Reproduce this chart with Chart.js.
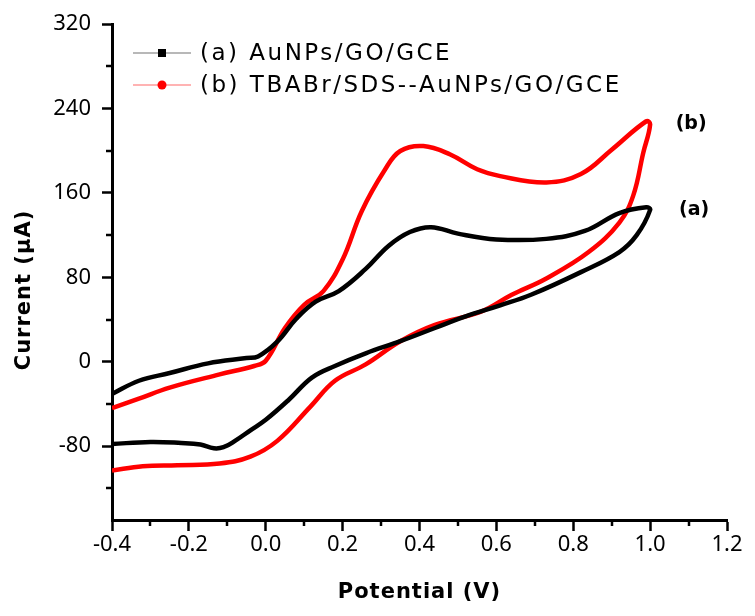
<!DOCTYPE html>
<html>
<head>
<meta charset="utf-8">
<script src="https://cdn.jsdelivr.net/npm/chart.js@4.4.1/dist/chart.umd.min.js"></script>
<style>
  html, body { margin: 0; padding: 0; background: #fff; }
  #wrap { width: 755px; height: 616px; }
</style>
</head>
<body>
<div id="wrap"><canvas id="cv-chart" width="755" height="616"></canvas></div>
<script>
// (a) AuNPs/GO/GCE - forward scan then reverse scan
const potentialA = [-0.40, -0.33, -0.25, -0.15, -0.05, -0.02, 0.03, 0.08, 0.13, 0.19, 0.26, 0.32, 0.375, 0.43, 0.50, 0.60, 0.73, 0.83, 0.92, 0.99, 1.00,
  0.965, 0.92, 0.82, 0.69, 0.61, 0.52, 0.44, 0.35, 0.26, 0.18, 0.12, 0.06, 0.00, -0.04, -0.08, -0.11, -0.135, -0.17, -0.22, -0.30, -0.40];
const currentA = [-30.5, -18, -10.7, -1.5, 3.5, 5, 19, 41, 57, 67, 88, 110, 123, 127.6, 121.5, 116, 116.5, 124, 141, 146.5, 144,
  120, 104, 85, 63.5, 53.5, 43, 32, 19.5, 8, -4, -15, -36, -55, -65, -75, -81, -82, -78.5, -77, -76, -78];

// (b) TBABr/SDS--AuNPs/GO/GCE
const potentialB = [-0.40, -0.33, -0.25, -0.12, -0.03, 0.00, 0.05, 0.10, 0.15, 0.20, 0.25, 0.31, 0.35, 0.41, 0.48, 0.55, 0.61, 0.73, 0.82, 0.90, 0.99, 1.00,
  0.982, 0.956, 0.92, 0.84, 0.73, 0.64, 0.56, 0.44, 0.35, 0.26, 0.18, 0.115, 0.03, -0.04, -0.12, -0.23, -0.32, -0.40];
const currentB = [-44, -35, -24.5, -12, -4, 1, 32, 54, 67, 97, 143, 182, 199.8, 204.5, 196.5, 182.5, 176, 170, 178, 201, 228, 225,
  198, 157.5, 132, 104, 79, 63.5, 47.5, 35, 19.5, -2.5, -18, -43, -75, -90, -96.5, -98, -99, -103];

const seriesLabels = ["(a) AuNPs/GO/GCE", "(b) TBABr/SDS--AuNPs/GO/GCE"];
const curveTags = ["(a)", "(b)"];
const xTicks = [-0.4, -0.2, 0.0, 0.2, 0.4, 0.6, 0.8, 1.0, 1.2];
const xMinor = [-0.3, -0.1, 0.1, 0.3, 0.5, 0.7, 0.9, 1.1];
const yTicks = [-80, 0, 80, 160, 240, 320];
const yMinor = [-120, -40, 40, 120, 200, 280];
const xTitle = "Potential (V)";
const yTitle = "Current (\u03bcA)";

const tickFont = { family: "'Noto Sans', sans-serif", size: 22 };

function toPoints(xs, ys) {
  return xs.map((x, i) => ({ x: x, y: ys[i] }));
}

// minor ticks, legend, curve tags and axis titles
const extrasPlugin = {
  id: "extras",
  afterDraw(chart) {
    const ctx = chart.ctx;
    const xs = chart.scales.x;
    const ys = chart.scales.y;
    const area = chart.chartArea;
    ctx.save();

    // minor ticks
    ctx.strokeStyle = "#000";
    ctx.lineWidth = 2.5;
    xMinor.forEach((v) => {
      const px = Math.round(xs.getPixelForValue(v));
      ctx.beginPath();
      ctx.moveTo(px, area.bottom);
      ctx.lineTo(px, area.bottom + 6);
      ctx.stroke();
    });
    yMinor.forEach((v) => {
      const py = Math.round(ys.getPixelForValue(v));
      ctx.beginPath();
      ctx.moveTo(area.left, py);
      ctx.lineTo(area.left - 6, py);
      ctx.stroke();
    });

    // legend
    const rows = [53, 85];
    ctx.font = "23px 'DejaVu Sans'";
    ctx.textBaseline = "middle";
    ctx.textAlign = "left";
    chart.data.datasets.forEach((ds, i) => {
      const ry = rows[i];
      ctx.strokeStyle = i === 0 ? "#a0a0a0" : "#ff9a9a";
      ctx.lineWidth = 1.5;
      ctx.beginPath();
      ctx.moveTo(133, ry);
      ctx.lineTo(191, ry);
      ctx.stroke();
      ctx.fillStyle = ds.borderColor;
      if (i === 0) {
        ctx.fillRect(158, ry - 4, 8, 8);
      } else {
        ctx.beginPath();
        ctx.arc(162, ry, 4.5, 0, Math.PI * 2);
        ctx.fill();
      }
      ctx.fillStyle = "#000";
      ctx.letterSpacing = "2.5px";
      ctx.fillText(ds.label, 200, ry + 1);
      ctx.letterSpacing = "0px";
    });

    // (a) / (b) tags next to the vertex of each curve
    ctx.font = "bold 19px 'DejaVu Sans'";
    ctx.textAlign = "center";
    const tipX = xs.getPixelForValue(1.0);
    [currentA, currentB].forEach((arr, i) => {
      const peak = Math.max.apply(null, arr);
      ctx.fillText(curveTags[i], tipX + 41 + (i === 0 ? 3 : 0), ys.getPixelForValue(peak) + 3);
    });

    // axis titles
    ctx.font = "bold 21px 'DejaVu Sans'";
    ctx.letterSpacing = "1px";
    ctx.fillText(xTitle, (area.left + area.right) / 2, 593);
    ctx.translate(25, 290);
    ctx.rotate(-Math.PI / 2);
    ctx.fillText(yTitle, 0, 0);
    ctx.restore();
  }
};

new Chart(document.getElementById("cv-chart"), {
  type: "scatter",
  data: {
    datasets: [
      {
        label: seriesLabels[0],
        data: toPoints(potentialA, currentA),
        showLine: true,
        borderColor: "#000000",
        backgroundColor: "#000000",
        borderWidth: 4.5,
        pointRadius: 0,
        tension: 0.4,
        fill: false
      },
      {
        label: seriesLabels[1],
        data: toPoints(potentialB, currentB),
        showLine: true,
        borderColor: "#ff0000",
        backgroundColor: "#ff0000",
        borderWidth: 4.5,
        pointRadius: 0,
        tension: 0.4,
        fill: false
      }
    ]
  },
  options: {
    responsive: false,
    animation: false,
    layout: { padding: { left: 0, right: 28, top: 23, bottom: 0 } },
    plugins: {
      legend: { display: false },
      tooltip: { enabled: false }
    },
    scales: {
      x: {
        type: "linear",
        min: -0.4,
        max: 1.2,
        afterBuildTicks: (s) => { s.ticks = xTicks.map((v) => ({ value: v })); },
        afterFit: (s) => { s.height = 96; },
        ticks: {
          callback: (v) => Number(v).toFixed(1),
          font: tickFont,
          color: "#000",
          padding: 1,
          maxRotation: 0,
          autoSkip: false
        },
        grid: { drawOnChartArea: false, drawTicks: true, tickLength: 11, tickWidth: 2.5, tickColor: "#000" },
        border: { display: true, color: "#000", width: 3 }
      },
      y: {
        type: "linear",
        min: -150,
        max: 320,
        afterBuildTicks: (s) => { s.ticks = yTicks.map((v) => ({ value: v })); },
        afterFit: (s) => { s.width = 112; },
        ticks: {
          callback: (v) => String(v),
          font: tickFont,
          color: "#000",
          padding: 11,
          autoSkip: false
        },
        grid: { drawOnChartArea: false, drawTicks: true, tickLength: 10, tickWidth: 2.5, tickColor: "#000" },
        border: { display: true, color: "#000", width: 3 }
      }
    }
  },
  plugins: [extrasPlugin]
});
</script>
</body>
</html>
